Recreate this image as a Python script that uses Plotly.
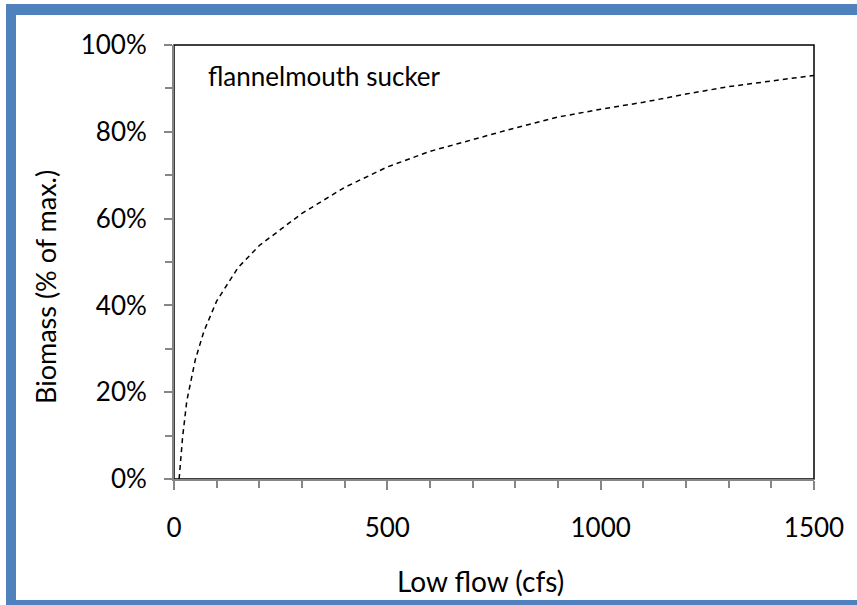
import plotly.graph_objects as go

flow_cfs = [12, 20, 30, 40, 50, 70, 100, 150, 200, 250, 300, 400, 500, 600, 700,
            800, 900, 1000, 1100, 1200, 1300, 1400, 1500]
biomass_pct = [0.0, 0.095, 0.18, 0.23, 0.275, 0.34, 0.41, 0.487, 0.538, 0.575, 0.612,
               0.672, 0.719, 0.755, 0.782, 0.809, 0.834, 0.852, 0.868, 0.887, 0.904,
               0.917, 0.93]
species_label = "flannelmouth sucker"
x_title = "Low flow (cfs)"
y_title = "Biomass (% of max.)"
x_ticks = [0, 500, 1000, 1500]
y_ticks = [0, 0.2, 0.4, 0.6, 0.8, 1.0]

W, H = 857, 605
L, R, T, B = 174, 814, 45, 479
pw, ph = R - L, B - T

def px(x):
    return (x - L) / pw

def py(y):
    return (B - y) / ph

FONT = "Lato"
GRAY = "#868686"
BLUE = "#4F81BD"

fig = go.Figure()
fig.add_trace(go.Scatter(
    x=flow_cfs, y=biomass_pct, mode="lines",
    line=dict(color="black", width=1.5, dash="5px,4px"),
    showlegend=False, hoverinfo="skip",
))

fig.update_layout(
    width=W, height=H,
    margin=dict(l=L, r=W - R, t=T, b=H - B, pad=0),
    paper_bgcolor="white", plot_bgcolor="white",
    font=dict(family=FONT, size=26, color="black"),
    xaxis=dict(
        range=[0, 1500], tickvals=x_ticks, showgrid=False, zeroline=False,
        showline=True, linecolor=GRAY, linewidth=2,
        ticks="outside", ticklen=9, tickwidth=1.5, tickcolor=GRAY,
        minor=dict(dtick=100, ticks="outside", ticklen=7, tickwidth=1.5, tickcolor=GRAY, showgrid=False),
        tickfont=dict(family=FONT, size=26), ticklabelstandoff=16,
    ),
    yaxis=dict(
        range=[0, 1], tickvals=y_ticks, tickformat=".0%", showgrid=False, zeroline=False,
        showline=True, linecolor=GRAY, linewidth=2,
        ticks="outside", ticklen=8, tickwidth=1.5, tickcolor=GRAY,
        minor=dict(dtick=0.1, ticks="outside", ticklen=7, tickwidth=1.5, tickcolor=GRAY, showgrid=False),
        tickfont=dict(family=FONT, size=26), ticklabelstandoff=12,
    ),
    shapes=[
        dict(type="rect", xref="paper", yref="paper", x0=0, y0=0, x1=1, y1=1,
             line=dict(color="black", width=1.5), layer="below"),
        # blue frame: top, left, bottom bands (right side is cut off in the reference)
        dict(type="rect", xref="paper", yref="paper",
             x0=px(6), x1=px(857), y0=py(15), y1=py(4),
             line=dict(width=0), fillcolor=BLUE, layer="above"),
        dict(type="rect", xref="paper", yref="paper",
             x0=px(6), x1=px(16), y0=py(605), y1=py(4),
             line=dict(width=0), fillcolor=BLUE, layer="above"),
        dict(type="rect", xref="paper", yref="paper",
             x0=px(6), x1=px(857), y0=py(605), y1=py(600),
             line=dict(width=0), fillcolor=BLUE, layer="above"),
    ],
    annotations=[
        dict(text=species_label, xref="paper", yref="paper", x=px(206), y=py(76),
             xanchor="left", yanchor="middle", showarrow=False,
             font=dict(family=FONT, size=26)),
        dict(text=x_title, xref="paper", yref="paper", x=px(480), y=py(581),
             xanchor="center", yanchor="middle", showarrow=False,
             font=dict(family=FONT, size=28)),
        dict(text=y_title, xref="paper", yref="paper", x=px(45), y=py(287),
             xanchor="center", yanchor="middle", showarrow=False, textangle=-90,
             font=dict(family=FONT, size=27)),
    ],
)

fig.write_html("out.html", config={"displayModeBar": False},
               post_script="document.body.style.margin='0';document.body.style.overflow='hidden';")
